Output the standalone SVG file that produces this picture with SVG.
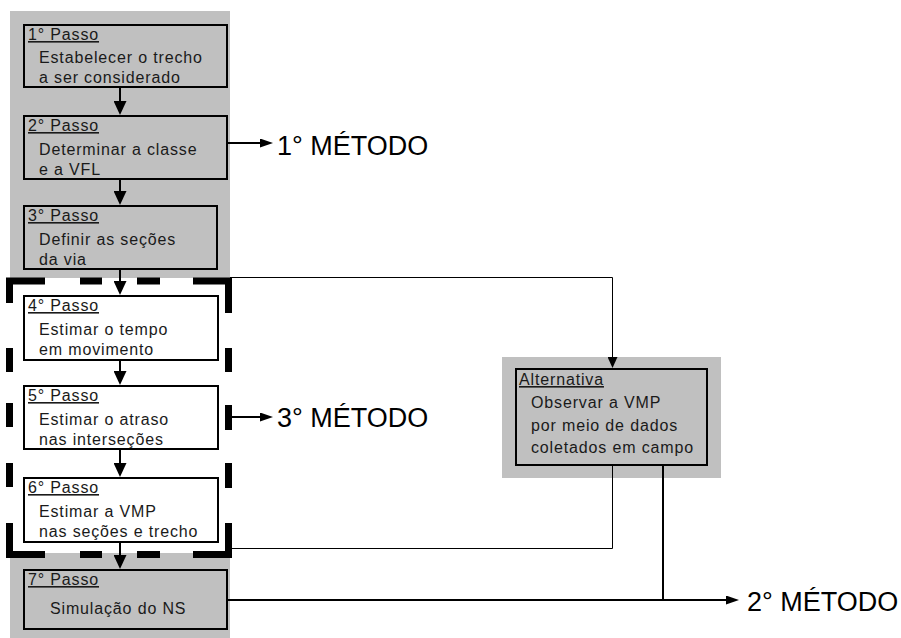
<svg xmlns="http://www.w3.org/2000/svg" width="901" height="638" viewBox="0 0 901 638">
<style>
  .panel { fill: #c0c0c0; }
  .box { stroke: #000; stroke-width: 2; }
  .gray { fill: #c0c0c0; }
  .white { fill: #fff; }
  .t { font-family: "Liberation Sans", Arial, sans-serif; font-size: 16px; letter-spacing: 0.85px; fill: #1a1a1a; }
  .h { text-decoration: underline; }
  .m { font-family: "Liberation Sans", Arial, sans-serif; font-size: 27px; fill: #000; }
  .thick { fill: none; stroke: #000; stroke-width: 2; }
  .thin { fill: none; stroke: #000; stroke-width: 1; }
  .dash { fill: none; stroke: #000; stroke-width: 7; stroke-linejoin: miter; stroke-linecap: butt; }
</style>
<defs>
  <marker id="ah" markerUnits="userSpaceOnUse" markerWidth="14" markerHeight="13" refX="11" refY="6.5" orient="auto">
    <path d="M0,0 L14,6.5 L0,13 Z" fill="#000"/>
  </marker>
  <marker id="am" markerUnits="userSpaceOnUse" markerWidth="13" markerHeight="9" refX="10" refY="4.5" orient="auto">
    <path d="M0,0 L13,4.5 L0,9 Z" fill="#000"/>
  </marker>
  <marker id="as" markerUnits="userSpaceOnUse" markerWidth="11" markerHeight="10" refX="8" refY="5" orient="auto">
    <path d="M0,0 L11,5 L0,10 Z" fill="#000"/>
  </marker>
</defs>
<rect width="901" height="638" fill="#fff"/>
<g id="panels">
  <rect class="panel" x="10" y="11" width="220" height="267"/>
  <rect class="panel" x="10" y="553" width="220" height="85"/>
  <rect class="panel" x="502" y="357" width="219" height="121"/>
</g>
<g id="connectors">
  <line class="thick" x1="120" y1="88" x2="120" y2="112" marker-end="url(#ah)"/>
  <line class="thick" x1="120" y1="180" x2="120" y2="202" marker-end="url(#ah)"/>
  <line class="thick" x1="120" y1="270" x2="120" y2="292" marker-end="url(#ah)"/>
  <line class="thick" x1="120" y1="361" x2="120" y2="382" marker-end="url(#ah)"/>
  <line class="thick" x1="120" y1="450" x2="120" y2="474" marker-end="url(#ah)"/>
  <line class="thick" x1="120" y1="543" x2="120" y2="566" marker-end="url(#ah)"/>
  <path class="thin" d="M230,277.5 H612.5 V365" marker-end="url(#as)"/>
  <path class="thin" d="M612.5,466 V548.5 H232"/>
  <path class="thick" d="M663,466 V600"/>
  <path class="thick" d="M228,600 H736" marker-end="url(#am)"/>
  <path class="thick" d="M228,143 H270" marker-end="url(#am)"/>
  <path class="thick" d="M232,417 H270" marker-end="url(#am)"/>
</g>
<g id="frame-metodo3">
  <path class="dash" d="M45,281 H9.5 V303 M80,281 H102 M137,281 H160 M193,281 H228.5 V313
    M9.5,348 V372 M9.5,403 V427 M9.5,463 V487 M9.5,523 V554.5 H45
    M80,554.5 H102 M137,554.5 H160 M193,554.5 H228.5 V523
    M228.5,348 V372 M228.5,405 V430 M228.5,463 V488"/>
</g>
<g id="passo1">
  <rect class="box gray" x="24" y="25" width="203" height="62"/>
  <text class="t h" x="28" y="40">1° Passo</text>
  <text class="t" x="39" y="63">Estabelecer o trecho</text>
  <text class="t" x="39" y="83">a ser considerado</text>
</g>
<g id="passo2">
  <rect class="box gray" x="24" y="116" width="203" height="63"/>
  <text class="t h" x="28" y="131">2° Passo</text>
  <text class="t" x="39" y="155">Determinar a classe</text>
  <text class="t" x="39" y="175">e a VFL</text>
</g>
<g id="passo3">
  <rect class="box gray" x="24" y="206" width="193" height="63"/>
  <text class="t h" x="28" y="221">3° Passo</text>
  <text class="t" x="39" y="245">Definir as seções</text>
  <text class="t" x="39" y="265">da via</text>
</g>
<g id="passo4">
  <rect class="box white" x="24" y="296" width="194" height="64"/>
  <text class="t h" x="28" y="311">4° Passo</text>
  <text class="t" x="39" y="335">Estimar o tempo</text>
  <text class="t" x="39" y="355">em movimento</text>
</g>
<g id="passo5">
  <rect class="box white" x="24" y="386" width="194" height="63"/>
  <text class="t h" x="28" y="401">5° Passo</text>
  <text class="t" x="39" y="425">Estimar o atraso</text>
  <text class="t" x="39" y="445">nas interseções</text>
</g>
<g id="passo6">
  <rect class="box white" x="24" y="478" width="194" height="64"/>
  <text class="t h" x="28" y="493">6° Passo</text>
  <text class="t" x="39" y="517">Estimar a VMP</text>
  <text class="t" x="39" y="537">nas seções e trecho</text>
</g>
<g id="passo7">
  <rect class="box gray" x="24" y="570" width="203" height="59"/>
  <text class="t h" x="28" y="585">7° Passo</text>
  <text class="t" x="50" y="614">Simulação do NS</text>
</g>
<g id="alternativa">
  <rect class="box gray" x="516" y="369" width="191" height="96"/>
  <text class="t h" x="519" y="385">Alternativa</text>
  <text class="t" x="531" y="408">Observar a VMP</text>
  <text class="t" x="531" y="431">por meio de dados</text>
  <text class="t" x="531" y="453">coletados em campo</text>
</g>
<g id="metodo1"><text class="m" x="277" y="155">1° MÉTODO</text></g>
<g id="metodo3"><text class="m" x="277" y="427">3° MÉTODO</text></g>
<g id="metodo2"><text class="m" x="747" y="611">2° MÉTODO</text></g>
</svg>
